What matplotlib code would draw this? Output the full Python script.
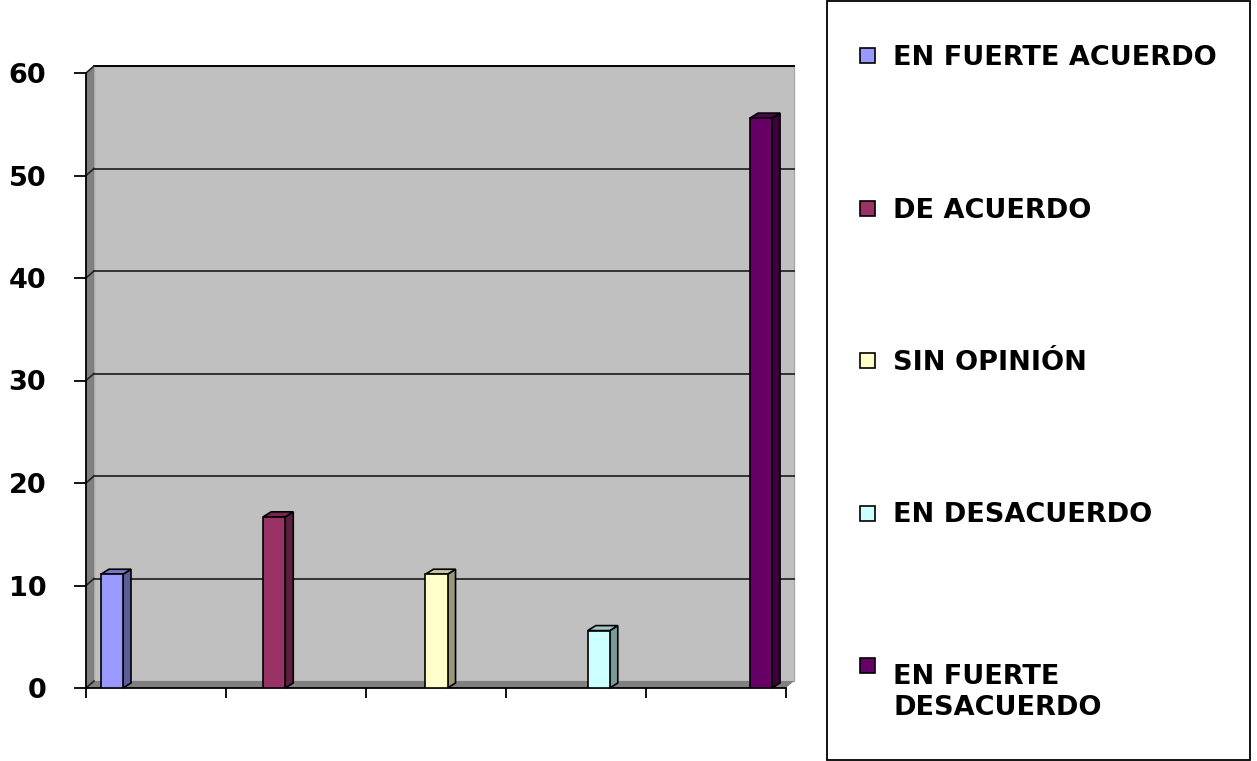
import matplotlib.pyplot as plt
from matplotlib.colors import to_rgb
from matplotlib.patches import Polygon, Rectangle

categorias = ["EN FUERTE ACUERDO", "DE ACUERDO", "SIN OPINIÓN",
              "EN DESACUERDO", "EN FUERTE\nDESACUERDO"]
porcentajes = [11.1, 16.7, 11.1, 5.6, 55.6]
colores = ["#9999FF", "#993366", "#FFFFCC", "#CCFFFF", "#660066"]
y_ticks = [0, 10, 20, 30, 40, 50, 60]

plt.rcParams["font.family"] = ["DejaVu Sans"]

W, H = 1257, 761
fig = plt.figure(figsize=(W / 100, H / 100), dpi=100)
ax = fig.add_axes([86 / W, (H - 688) / H, 700 / W, 615 / H])
ax.set_facecolor("none")

xmin, xmax = -0.16, 4.154
ax.set_xlim(xmin, xmax)
ax.set_ylim(0, 60)


def desplazar(x, y, px, py):
    # mueve un punto de datos px/py pixeles en pantalla
    X, Y = ax.transData.transform((x, y))
    return tuple(ax.transData.inverted().transform((X + px, Y + py)))


def sombra(c, f):
    r, g, b = to_rgb(c)
    return (r * f, g * f, b * f)


# paredes 3D: fondo, lateral y suelo
prof = (8, 7)
fondo = [desplazar(x, y, *prof) for x, y in [(xmin, 0), (xmax, 0), (xmax, 60), (xmin, 60)]]
ax.add_patch(Polygon(fondo, closed=True, facecolor="#C0C0C0", edgecolor="#A8A8A8",
                     lw=1, clip_on=False, zorder=0))
lateral = [(xmin, 0), (xmin, 60), desplazar(xmin, 60, *prof), desplazar(xmin, 0, *prof)]
ax.add_patch(Polygon(lateral, closed=True, facecolor="#808080", edgecolor="none",
                     clip_on=False, zorder=0.5))
suelo = [(xmin, 0), (xmax, 0), desplazar(xmax, 0, *prof), desplazar(xmin, 0, *prof)]
ax.add_patch(Polygon(suelo, closed=True, facecolor="#808080", edgecolor="none",
                     clip_on=False, zorder=0.5))

for t in y_ticks:
    a = desplazar(xmin, t, *prof)
    b = desplazar(xmax, t, *prof)
    if t > 0:
        ax.plot([a[0], b[0]], [a[1], b[1]], color="#000000" if t == 60 else "#333333",
                lw=1.4, clip_on=False, zorder=1)
    ax.plot([xmin, a[0]], [t, a[1]], color="#222222", lw=1.2, clip_on=False, zorder=1)

# barras con cara lateral y superior
ancho = 0.136
for i, (v, c) in enumerate(zip(porcentajes, colores)):
    izq, der = i - ancho / 2, i + ancho / 2
    ax.bar(i, v, width=ancho, color=c, edgecolor="black", lw=1.2, zorder=3)
    lado = [(der, 0), (der, v), desplazar(der, v, 8, 5), desplazar(der, 0, 8, 5)]
    ax.add_patch(Polygon(lado, closed=True, facecolor=sombra(c, 0.6), edgecolor="black",
                         lw=1.2, zorder=2.9, clip_on=False))
    tapa = [(izq, v), (der, v), desplazar(der, v, 8, 5), desplazar(izq, v, 8, 5)]
    ax.add_patch(Polygon(tapa, closed=True, facecolor=sombra(c, 0.78), edgecolor="black",
                         lw=1.2, zorder=2.9, clip_on=False))

ax.set_yticks(y_ticks)
ax.set_yticklabels([str(t) for t in y_ticks], fontsize=19.5, fontweight="bold")
ax.set_xticks([xmin + k * (xmax - xmin) / 5 for k in range(6)])
ax.set_xticklabels([])
ax.tick_params(axis="y", length=8.6, width=1.3, pad=20)
ax.tick_params(axis="x", length=7.2, width=1.3)
for s in ["top", "right"]:
    ax.spines[s].set_visible(False)
for s in ["left", "bottom"]:
    ax.spines[s].set_linewidth(1.3)
    ax.spines[s].set_zorder(2)

# leyenda dibujada a mano
fig.patches.append(Rectangle((827 / W, 1 / H), 423 / W, 759 / H, transform=fig.transFigure,
                             facecolor="white", edgecolor="black", lw=1.3))
base_leyenda = [65, 217.5, 370, 522.5, 675]
for cat, c, yb in zip(categorias, colores, base_leyenda):
    fig.patches.append(Rectangle((860 / W, (H - yb + 2) / H), 15 / W, 15 / H,
                                 transform=fig.transFigure, facecolor=c,
                                 edgecolor="black", lw=1.2))
    n = cat.count("\n")
    fig.text(893 / W, (H - yb - 40 * n) / H, cat, fontsize=19.5, fontweight="bold",
             va="baseline", ha="left", linespacing=1.27)

fig.savefig("out.png", dpi=100)
